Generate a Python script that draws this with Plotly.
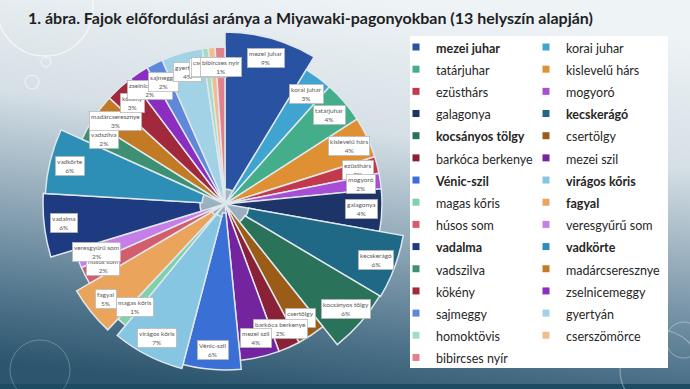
import math
import base64
import plotly.graph_objects as go

# ---------------- data ----------------
species = [
    "mezei juhar", "korai juhar", "tatárjuhar", "kislevelű hárs", "ezüsthárs",
    "mogyoró", "galagonya", "kecskerágó", "kocsányos tölgy", "csertölgy",
    "barkóca berkenye", "mezei szil", "Vénic-szil", "virágos kőris", "magas kőris",
    "fagyal", "húsos som", "veresgyűrű som", "vadalma", "vadkörte",
    "vadszilva", "madárcseresznye", "kökény", "zselnicemeggy", "sajmeggy",
    "gyertyán", "homoktövis", "cserszömörce", "bibircses nyír",
]
values = [
    8.6, 2.9, 4.3, 4.2, 1.7,
    1.6, 4.3, 5.7, 5.7, 2.9,
    2.2, 4.0, 5.6, 6.8, 1.0,
    4.6, 1.8, 1.9, 5.6, 5.8,
    2.1, 2.9, 2.9, 2.0, 1.7,
    4.2, 0.6, 0.7, 1.0,
]
highlight = ["mezei juhar", "kecskerágó", "kocsányos tölgy", "Vénic-szil",
             "virágos kőris", "fagyal", "vadalma", "vadkörte"]

# ---------------- style ----------------
colors = [
    "#2a52a2", "#3fa4d0", "#44ae8b", "#de9033", "#c2394c",
    "#a64fd6", "#1c3468", "#1f6986", "#2a7259", "#9a5c16",
    "#8a2137", "#74249f", "#3a6fd6", "#86c6e2", "#7fd0ab",
    "#eba45c", "#d25d6d", "#c67ee8", "#1e3b82", "#2e8fb6",
    "#3d9172", "#c27a24", "#a2283c", "#8a2dc0", "#5f87da",
    "#a1d2e6", "#a6dcc2", "#f0bd8c", "#e2808f",
]
EXPLODE = {"mezei juhar": 15, "kecskerágó": 24, "kocsányos tölgy": 23, "Vénic-szil": 9,
           "virágos kőris": 13, "fagyal": 15, "vadalma": 25, "vadkörte": 23}

W, H = 690, 389
CX, CY = 225, 204
RMAX = 184
SLICE_LEN = 157
FONT = "Lato"
LEG_FONT = 14.75
LEG_TOP = 47 - 5 - (LEG_FONT * 1.3 + 3) / 2

total = sum(values)
widths = [v / total * 360 for v in values]
mids = []
acc = 0
for w in widths:
    mids.append(acc + w / 2)
    acc += w
pct = [round(v / total * 100) for v in values]
bases = [EXPLODE.get(s, 0) for s in species]

fig = go.Figure()
fig.add_trace(go.Barpolar(
    r=[SLICE_LEN] * len(species), theta=mids, width=widths, base=bases,
    marker=dict(color=colors, line=dict(color="#dfe7ec", width=1.5)),
    showlegend=False, hoverinfo="skip",
))

# legend entries (two columns)
for i, (s, c) in enumerate(zip(species, colors)):
    txt = f"<b>{s}</b>" if s in highlight else s
    fig.add_trace(go.Scatterpolar(
        r=[None], theta=[None], mode="markers",
        marker=dict(symbol="square", size=7, color=c),
        name=f"<span style='font-size:12.5px'>{txt}</span>",
        legend="legend" if i % 2 == 0 else "legend2",
        showlegend=True, hoverinfo="skip",
    ))

# slice labels
annotations = []
for s, m, b, p in zip(species, mids, bases, pct):
    rl = b + SLICE_LEN - 20
    t = math.radians(m)
    xp = CX + rl * math.sin(t)
    yp = CY - rl * math.cos(t)
    annotations.append(dict(
        x=xp / W, y=1 - yp / H, xref="paper", yref="paper",
        text=f"{s}<br>{p}%", showarrow=False,
        font=dict(family=FONT, size=6.5, color="#595959"),
        bgcolor="white", bordercolor="#a6a6a6", borderwidth=0.6, borderpad=1.5,
        xanchor="center", yanchor="middle",
    ))

# background gradient
svg = f'''<svg xmlns="http://www.w3.org/2000/svg" width="{W}" height="{H}" viewBox="0 0 {W} {H}" preserveAspectRatio="none">
<defs><linearGradient id="g" x1="0.55" y1="0" x2="0.35" y2="1">
<stop offset="0" stop-color="#eef3f6"/>
<stop offset="0.33" stop-color="#d5dfe5"/>
<stop offset="0.6" stop-color="#8ea7b7"/>
<stop offset="0.85" stop-color="#4d7289"/>
<stop offset="1" stop-color="#2c566e"/>
</linearGradient></defs>
<rect width="{W}" height="{H}" fill="url(#g)"/>
<rect y="384" width="{W}" height="5" fill="#1e4a62"/>
<circle cx="45" cy="8" r="48" fill="none" stroke="#ffffff" stroke-opacity="0.6" stroke-width="1.5"/>
<circle cx="46" cy="62" r="5" fill="none" stroke="#ffffff" stroke-opacity="0.7" stroke-width="1"/>
<circle cx="32" cy="82" r="7" fill="none" stroke="#ffffff" stroke-opacity="0.7" stroke-width="1"/>
<circle cx="660" cy="370" r="40" fill="none" stroke="#ffffff" stroke-opacity="0.35" stroke-width="1.2"/>
<circle cx="684" cy="340" r="18" fill="none" stroke="#ffffff" stroke-opacity="0.35" stroke-width="1"/>
<circle cx="40" cy="370" r="30" fill="none" stroke="#ffffff" stroke-opacity="0.25" stroke-width="1"/>
</svg>'''
src = "data:image/svg+xml;base64," + base64.b64encode(svg.encode("utf-8")).decode()

legend_common = dict(
    yanchor="top", xanchor="left", bgcolor="rgba(0,0,0,0)", borderwidth=0,
    font=dict(family=FONT, size=LEG_FONT, color="#262626"), tracegroupgap=0,
    itemclick=False, itemdoubleclick=False,
)

fig.update_layout(
    width=W, height=H, margin=dict(l=0, r=0, t=0, b=0),
    paper_bgcolor="#9fb4c2", plot_bgcolor="rgba(0,0,0,0)",
    images=[dict(source=src, xref="paper", yref="paper", x=0, y=1, sizex=1, sizey=1,
                 sizing="stretch", layer="below", xanchor="left", yanchor="top")],
    title=dict(text="<b>1. ábra. Fajok előfordulási aránya a Miyawaki-pagonyokban (13 helyszín alapján)</b>",
               x=28 / W, xref="container", xanchor="left", y=1 - 18 / H, yref="container",
               yanchor="middle", font=dict(family=FONT, size=16, color="#1f1f1f")),
    polar=dict(
        domain=dict(x=[(CX - RMAX) / W, (CX + RMAX) / W], y=[1 - (CY + RMAX) / H, 1 - (CY - RMAX) / H]),
        bgcolor="rgba(0,0,0,0)", bargap=0,
        radialaxis=dict(visible=False, range=[0, RMAX]),
        angularaxis=dict(visible=False, rotation=90, direction="clockwise"),
    ),
    legend=dict(x=396 / W, y=1 - LEG_TOP / H, **legend_common),
    legend2=dict(x=526 / W, y=1 - LEG_TOP / H, **legend_common),
    shapes=[dict(type="rect", xref="paper", yref="paper", x0=410 / W, x1=668 / W,
                 y0=1 - 368 / H, y1=1 - 36 / H, fillcolor="white", line=dict(width=0), layer="above")],
    annotations=annotations,
    showlegend=True,
)

fig.write_html("out.html")
